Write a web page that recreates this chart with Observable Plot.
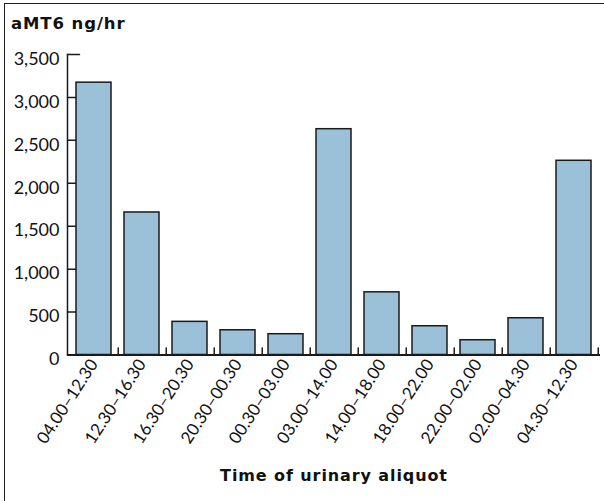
<!DOCTYPE html>
<html>
<head>
<meta charset="utf-8">
<script src="https://cdn.jsdelivr.net/npm/d3@7"></script>
<script src="https://cdn.jsdelivr.net/npm/@observablehq/plot@0.6"></script>
<style>
  html, body { margin: 0; padding: 0; background: #fff; overflow: hidden; }
  #wrap { position: relative; width: 604px; height: 501px; overflow: hidden; background: #fff; }
  #frame { position: absolute; left: 4px; top: 2.5px; width: 600px; height: 498.5px;
           border-top: 1.5px solid #222; border-left: 1.5px solid #222; border-right: none; border-bottom: none; box-sizing: border-box; }
  #title { position: absolute; left: 11px; top: 15.5px; font-family: "DejaVu Sans", sans-serif;
           font-weight: bold; font-size: 16.5px; line-height: 16px; letter-spacing: 0.9px; color: #111; white-space: nowrap; }
  #chart { position: absolute; left: 0; top: 40px; }
  #chart g[aria-label="text"] text { letter-spacing: 0.9px; }
</style>
</head>
<body>
<div id="wrap">
  <div id="frame"></div>
  <div id="title">aMT6 ng/hr</div>
  <div id="chart"></div>
</div>
<script>
const categories = ["04.00–12.30", "12.30–16.30", "16.30–20.30", "20.30–00.30", "00.30–03.00",
                    "03.00–14.00", "14.00–18.00", "18.00–22.00", "22.00–02.00", "02.00–04.30", "04.30–12.30"];
const values = [3172, 1660, 386, 288, 242, 2630, 730, 335, 172, 428, 2262];
const yTicks = [0, 500, 1000, 1500, 2000, 2500, 3000, 3500];
const yDomain = [0, 3500];
const xTitle = "Time of urinary aliquot";

const data = categories.map((c, i) => ({time: c, value: values[i]}));

const W = 604, H = 461, ML = 67, MR = 4, MT = 14, MB = 146.5;
const step = (W - ML - MR) / categories.length;
const lineShape = {draw(context, l) { context.moveTo(0, 0); context.lineTo(0, -l); }};

const chart = Plot.plot({
  width: W,
  height: H,
  marginLeft: ML,
  marginRight: MR,
  marginTop: MT,
  marginBottom: MB,
  style: {fontFamily: "Lato, sans-serif", fontSize: "18px", color: "#111", background: "transparent"},
  x: {domain: categories, paddingInner: 0.27, paddingOuter: 0.135, label: null},
  y: {domain: yDomain, label: null},
  marks: [
    Plot.vector(yTicks, {y: d => d, frameAnchor: "left", length: 12, rotate: 90, anchor: "start", shape: lineShape, stroke: "#1a1a1a", strokeWidth: 1.5}),
    Plot.axisY(yTicks, {stroke: "none", tickSize: 0, tickPadding: 8, dy: 4.5, fontSize: 18, tickFormat: d3.format(","), label: null}),
    Plot.barY(data, {x: "time", y: "value", fill: "#9bc1d9", stroke: "#1a1a1a", strokeWidth: 1.5}),
    Plot.ruleY([0], {stroke: "#1a1a1a", strokeWidth: 1.8}),
    Plot.frame({anchor: "left", stroke: "#1a1a1a", strokeWidth: 1.5}),
    Plot.vector(categories, {x: d => d, y: 0, length: 7, rotate: 0, anchor: "start", dx: step / 2, shape: lineShape, stroke: "#1a1a1a", strokeWidth: 1.5}),
    Plot.axisX({tickSize: 0, tickRotate: -57, tickPadding: 6, fontSize: 17, label: null}),
    Plot.text([xTitle], {frameAnchor: "bottom", dy: 126, fontFamily: "DejaVu Sans, sans-serif", fontWeight: "bold", fontSize: 16, fill: "#111"})
  ]
});
document.getElementById("chart").appendChild(chart);
</script>
</body>
</html>
